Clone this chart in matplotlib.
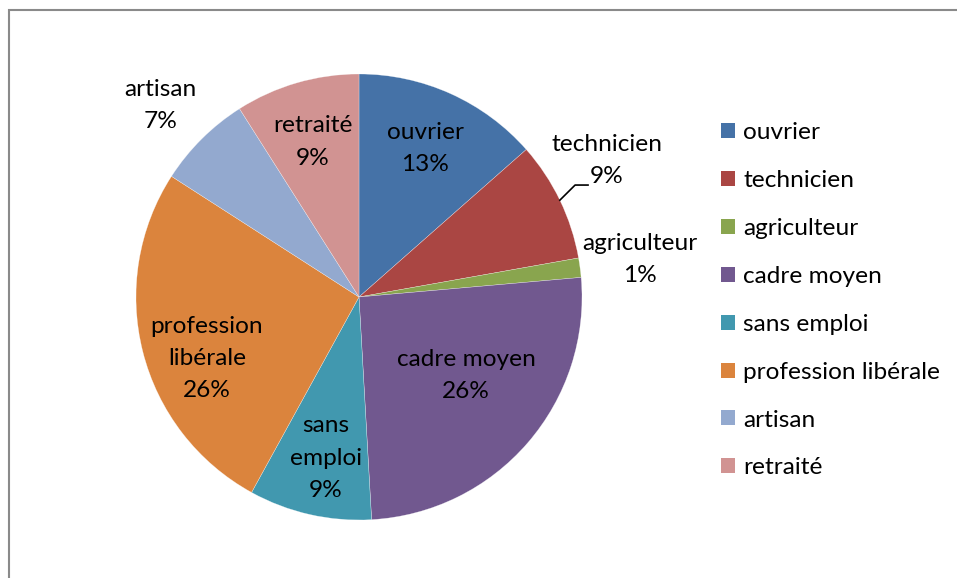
import matplotlib
matplotlib.use("Agg")
import matplotlib.pyplot as plt
import numpy as np
from matplotlib.patches import Patch, Rectangle

# Shares (percent)
categories = ["ouvrier", "technicien", "agriculteur", "cadre moyen",
              "sans emploi", "profession libérale", "artisan", "retraité"]
shares = [13.5, 8.7, 1.4, 25.5, 8.9, 26.1, 6.9, 9.0]
pct_labels = ["13%", "9%", "1%", "26%", "9%", "26%", "7%", "9%"]
label_names = ["ouvrier", "technicien", "agriculteur", "cadre moyen",
               "sans\nemploi", "profession\nlibérale", "artisan", "retraité"]
colors = ["#4572A7", "#AA4643", "#89A54E", "#71588F",
          "#4198AF", "#DB843D", "#93A9CF", "#D19392"]

# label anchor positions in pie units (radius = 1)
label_pos = [(0.296, 0.668), (1.112, 0.614), (1.26, 0.170), (0.48, -0.35),
             (-0.148, -0.722), (-0.682, -0.274), (-0.892, 0.857), (-0.206, 0.695)]

plt.rcParams["font.family"] = ["Lato", "DejaVu Sans"]
FS = 17.6

W, H = 957, 578
fig = plt.figure(figsize=(W / 100, H / 100), dpi=100)

cx, cy, r = 359, 297, 223
ax = fig.add_axes([(cx - r) / W, (H - cy - r) / H, 2 * r / W, 2 * r / H])
ax.pie(shares, colors=colors, startangle=90, counterclock=False, radius=1,
       wedgeprops=dict(linewidth=0.3, edgecolor=(1, 1, 1, 0.6)))
ax.set_xlim(-1, 1)
ax.set_ylim(-1, 1)
ax.set_aspect("equal")
ax.axis("off")

for name, pct, (x, y) in zip(label_names, pct_labels, label_pos):
    ax.text(x, y, name + "\n" + pct, ha="center", va="center", fontsize=FS,
            linespacing=1.65, color="#000000", clip_on=False)

# leader line for technicien
cum = np.cumsum([0] + shares)
mid = (cum[1] + cum[2]) / 2 / 100 * 2 * np.pi
sx, sy = np.sin(mid), np.cos(mid)
ax.plot([sx, 0.969, 1.027], [sy, 0.502, 0.502], color="black", lw=1.2,
        clip_on=False)

handles = [Patch(facecolor=c, edgecolor="none") for c in colors]
fig.legend(handles, categories, loc="upper left",
           bbox_to_anchor=(709 / W, 1 - 110 / H), frameon=False, fontsize=FS,
           handlelength=0.57, handleheight=0.57, handletextpad=0.33,
           labelspacing=1.1, borderpad=0)

fig.add_artist(Rectangle((9 / W, -0.1), 1.2, (H - 10) / H + 0.1,
                         transform=fig.transFigure, fill=False,
                         edgecolor="#8a8a8a", linewidth=1.5))

fig.savefig("out.png", dpi=100)
